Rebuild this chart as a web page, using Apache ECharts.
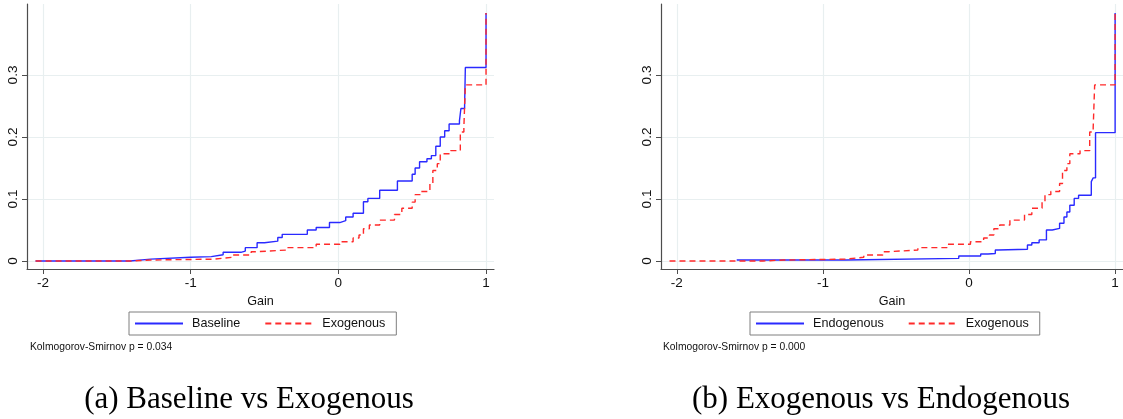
<!DOCTYPE html>
<html>
<head>
<meta charset="utf-8">
<script src="https://cdn.jsdelivr.net/npm/echarts@6/dist/echarts.min.js"></script>
<style>
  html, body { margin: 0; padding: 0; background: #fff; }
  #main { width: 1123px; height: 419px; }
</style>
</head>
<body>
<div id="main"></div>
<script>
var myChart = echarts.init(document.getElementById('main'));

// x ticks / y ticks
var gainTicks = [-2, -1, 0, 1];
var cdfTicks = [0, 0.1, 0.2, 0.3];

// Baseline (panel a, blue)
var baseGain = [-2.05, -1.41, -1.27, -1.0, -0.86, -0.78, -0.66, -0.63, -0.55, -0.50, -0.41, -0.38,
    -0.21, -0.15, -0.06, 0.01, 0.05, 0.10, 0.17, 0.20, 0.28, 0.40, 0.50, 0.52, 0.55, 0.60,
    0.63, 0.66, 0.69, 0.72, 0.75, 0.82, 0.83, 0.855, 0.86, 1.00];
var baseCdf = [0, 0.003, 0.006, 0.007, 0.010, 0.014, 0.016, 0.0215, 0.0295, 0.032, 0.038, 0.043,
    0.050, 0.054, 0.062, 0.065, 0.071, 0.077, 0.0955, 0.101, 0.114, 0.129, 0.140, 0.150, 0.160, 0.165,
    0.170, 0.185, 0.200, 0.210, 0.221, 0.226, 0.246, 0.250, 0.312, 0.400];

// Exogenous (both panels, red dashed)
var exoGain = [-2.05, -1.41, -1.27, -0.84, -0.72, -0.59, -0.55, -0.35, -0.15, 0.01, 0.10, 0.14,
    0.17, 0.21, 0.28, 0.38, 0.43, 0.50, 0.52, 0.56, 0.62, 0.64, 0.67, 0.69, 0.76, 0.826,
    0.85, 0.86, 1.00];
var exoCdf = [0, 0.0016, 0.003, 0.006, 0.0097, 0.015, 0.0177, 0.0215, 0.027, 0.031, 0.037, 0.042,
    0.052, 0.058, 0.066, 0.075, 0.085, 0.095, 0.107, 0.112, 0.125, 0.146, 0.157, 0.173, 0.178, 0.208,
    0.215, 0.284, 0.400];

// Endogenous (panel b, blue)
var endoGain = [-1.59, -0.84, -0.07, 0.08, 0.13, 0.18, 0.20, 0.40, 0.43, 0.48, 0.53, 0.57,
    0.62, 0.65, 0.67, 0.69, 0.72, 0.75, 0.837, 0.85, 0.866, 1.00];
var endoCdf = [0.0016, 0.0043, 0.008, 0.0113, 0.012, 0.0177, 0.019, 0.0258, 0.0295, 0.034, 0.050, 0.0526,
    0.061, 0.071, 0.079, 0.090, 0.101, 0.106, 0.128, 0.134, 0.207, 0.400];

var ksNotes = ['Kolmogorov-Smirnov p = 0.034', 'Kolmogorov-Smirnov p = 0.000'];
var captions = ['(a) Baseline vs Exogenous', '(b) Exogenous vs Endogenous'];

function zip(xs, ys) {
    return xs.map(function (x, i) { return [x, ys[i]]; });
}

var sans = "'Liberation Sans', Arial, Helvetica, sans-serif";
var axisColor = '#4d4d4d';
var gridColor = '#e8eff0';
var blue = '#2a2aff';
var red = '#ff2a2a';

function xAxisFor(idx) {
    return {
        type: 'value', gridIndex: idx,
        min: -2.108, max: 1.054,
        name: 'Gain', nameLocation: 'middle', nameGap: 22,
        nameTextStyle: { color: '#111', fontSize: 12.6, fontFamily: sans },
        axisLine: { show: true, onZero: false, lineStyle: { color: axisColor, width: 1.2 } },
        axisTick: { show: true, length: 5, customValues: gainTicks, lineStyle: { color: axisColor } },
        axisLabel: { customValues: gainTicks, margin: 7, color: '#111', fontSize: 13.5, fontFamily: sans },
        splitLine: { show: true, lineStyle: { color: gridColor, width: 1.2 } }
    };
}
function yAxisFor(idx) {
    return {
        type: 'value', gridIndex: idx,
        min: -0.0129, max: 0.4145,
        axisLine: { show: true, onZero: false, lineStyle: { color: axisColor, width: 1.2 } },
        axisTick: { show: true, length: 5, customValues: cdfTicks, lineStyle: { color: axisColor } },
        axisLabel: { customValues: cdfTicks, rotate: 90, margin: 7, color: '#111', fontSize: 13.5, fontFamily: sans },
        splitLine: { show: true, lineStyle: { color: gridColor, width: 1.2 } }
    };
}
function lineSeries(name, idx, data, color, dashed) {
    return {
        name: name, type: 'line', step: 'end',
        xAxisIndex: idx, yAxisIndex: idx,
        data: data, symbol: 'none', silent: true, animation: false,
        lineStyle: { color: color, width: 1.4, type: dashed ? [6, 4] : 'solid' },
        itemStyle: { color: color }
    };
}
function legendFor(left, names) {
    return {
        left: left, top: 312,
        data: names,
        orient: 'horizontal',
        itemWidth: 48, itemHeight: 14, itemGap: 24,
        padding: [5, 11, 5, 5],
        borderColor: '#7f7f7f', borderWidth: 1, borderRadius: 0,
        selectedMode: false,
        itemStyle: { opacity: 0 },
        textStyle: { color: '#111', fontSize: 12.6, fontFamily: sans, padding: [0, 0, 0, 4] }
    };
}

var option = {
    backgroundColor: '#fff',
    animation: false,
    grid: [
        { left: 27, top: 4, width: 467, height: 265 },
        { left: 661, top: 4, width: 467, height: 265 }
    ],
    xAxis: [xAxisFor(0), xAxisFor(1)],
    yAxis: [yAxisFor(0), yAxisFor(1)],
    legend: [
        legendFor(129, ['Baseline', 'Exogenous']),
        legendFor(750, ['Endogenous', 'Exogenous'])
    ],
    series: [
        lineSeries('Baseline', 0, zip(baseGain, baseCdf), blue, false),
        lineSeries('Exogenous', 0, zip(exoGain, exoCdf), red, true),
        lineSeries('Endogenous', 1, zip(endoGain, endoCdf), blue, false),
        lineSeries('Exogenous', 1, zip(exoGain, exoCdf), red, true)
    ],
    graphic: [
        { type: 'text', left: 30, top: 342, style: { text: ksNotes[0], fill: '#111', font: '10.3px ' + sans } },
        { type: 'text', left: 663, top: 342, style: { text: ksNotes[1], fill: '#111', font: '10.3px ' + sans } },
        { type: 'text', x: 249, y: 400, style: { text: captions[0], fill: '#000', font: "31px 'Liberation Serif', 'DejaVu Serif', serif", align: 'center', verticalAlign: 'middle' } },
        { type: 'text', x: 881, y: 400, style: { text: captions[1], fill: '#000', font: "31px 'Liberation Serif', 'DejaVu Serif', serif", align: 'center', verticalAlign: 'middle' } }
    ]
};

myChart.setOption(option);
</script>
</body>
</html>
